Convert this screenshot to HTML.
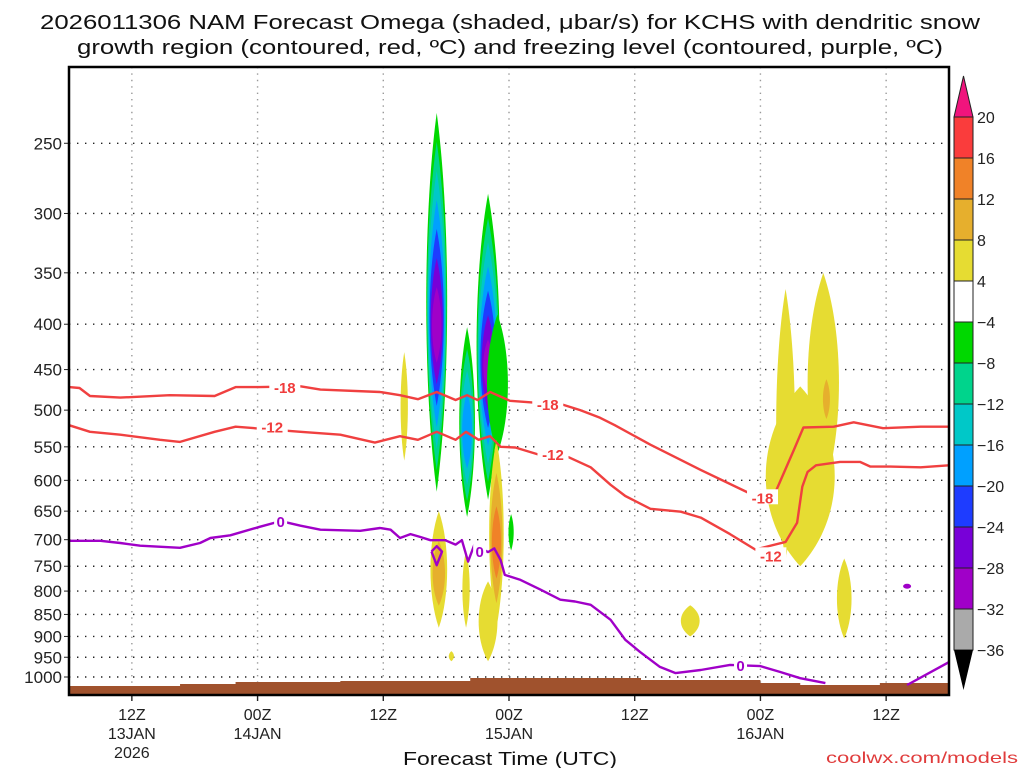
<!DOCTYPE html>
<html><head><meta charset="utf-8">
<style>
html,body{margin:0;padding:0;background:#fff;}
svg{display:block;font-family:"Liberation Sans",sans-serif;}
</style></head>
<body>
<svg id="chart" width="1024" height="768" viewBox="0 0 1024 768" xmlns="http://www.w3.org/2000/svg">
  <text x="40" y="29" font-size="20" fill="#111" textLength="940" lengthAdjust="spacingAndGlyphs">2026011306 NAM Forecast Omega (shaded, μbar/s) for KCHS with dendritic snow</text>
  <text x="77" y="54" font-size="20" fill="#111" textLength="866" lengthAdjust="spacingAndGlyphs">growth region (contoured, red, ºC) and freezing level (contoured, purple, ºC)</text>
  <g id="plot"></g>
  <g id="cbar"></g>
  <text x="510" y="765" font-size="18" fill="#111" text-anchor="middle" textLength="214" lengthAdjust="spacingAndGlyphs">Forecast Time (UTC)</text>
  <text x="826" y="763" font-size="16" fill="#e03c3c" textLength="192" lengthAdjust="spacingAndGlyphs">coolwx.com/models</text>
</svg>
<script>
// ---- data ----
const pressureTicks = [250,300,350,400,450,500,550,600,650,700,750,800,850,900,950,1000];
const timeTickHours = [6,18,30,42,54,66,78];
const timeTickLabels = [["12Z","13JAN","2026"],["00Z","14JAN"],["12Z"],["00Z","15JAN"],["12Z"],["00Z","16JAN"],["12Z"]];
const cbarLevels = [20,16,12,8,4,-4,-8,-12,-16,-20,-24,-28,-32,-36];
const cbarColors = ["#fa3c3c","#f08228","#e6af2d","#e6dc32","#ffffff","#00d800","#00d48c","#00c8c8","#00a0ff","#1e3cff","#7800d8","#a000c8","#aaaaaa"];
// omega blobs: center hour, top pressure, bottom pressure, half width (hours), peak value
const blobHour = [35.1,38.0,40.0,40.9,42.2, 32.0,35.3,37.9,40.8,40.0,36.5,72.0,68.4,69.8,59.3,74.0,72.3];
const blobTop  = [231,403,285,390,655, 430,650,720,540,780,935,350,365,470,830,735,440];
const blobBot  = [618,660,631,560,720, 570,880,880,880,960,960,620,740,750,900,905,530];
const blobHalf = [1.0,0.75,1.1,1.0,0.25, 0.35,0.8,0.35,0.7,0.9,0.25,1.5,0.9,3.3,0.9,0.7,0.45];
const blobPeak = [-30,-20,-29,-5,-6, 6,9,6,13,6,6,7,6,6,6,6,9];
// contour lines
const m18Hours = [0,1,2,4.9,9.6,13.9,15.9,18.2,22.1,24,29.7,31.6,33.3,35.1,36.9,38,39,40.2,42.1,45,46.9,48.8,50.7,52.1,55.5,58.4,60.3,64.9,67.4,69.2,70.1,73,74.9,77.7,81.3,84];
const m18Press = [471,472,482,484,481,482,471,471,470,474,477,481,486,477,487,481,487,477,488,491,492,500,510,520,547,569,584,620,620,554,523,522,516,524,522,522];
const m12Hours = [0,2,4.9,8.7,10.6,13.9,15.9,22.1,25.9,29.2,31.6,33.3,35.1,36.9,37.9,39.1,40.2,41.2,42.6,45,47.4,49.8,51.7,53.1,55.5,58.4,60.3,63.1,65.5,68.4,69.5,70.0,70.5,71.3,73.6,75.5,76.5,78.4,81.3,84];
const m12Press = [520,529,533,540,543,529,522,529,533,544,535,540,529,540,529,540,535,550,551,562,563,580,607,625,646,651,661,690,718,704,670,610,587,577,572,572,579,579,580,577];
const frzHours = [0,3,4.9,6.8,10.6,12.5,13.5,15.4,18.2,20.2,22.1,24,27.8,29.7,30.7,31.6,32.6,33.5,34.5,35.9,36.9,37.5,38.1,38.7,40.0,40.6,41.2,41.6,43.1,45,46.9,48.3,49.8,51.7,53.1,54.5,56.4,57.9,60.3,63.1,66,67.9,69.8,72.2];
const frzPress = [702,702,706,711,715,706,697,692,677,667,675,682,684,679,682,697,690,695,701,701,709,701,741,709,723,716,738,767,777,797,818,822,829,862,908,937,974,990,982,969,972,987,1003,1016];
const frz2Hours = [80,84];
const frz2Press = [1021,962];
const loopHours = [34.6,35.1,35.6,35.1,34.6];
const loopPress = [722,712,722,748,722];
const surfHours = [0,10.6,15.9,25.9,38.3,54.6,66,69.8,77.4,84];
const surfPress = [1023.7,1018.4,1013.1,1010.5,1002.6,1007.8,1015.7,1021,1015.7,1015.7];
const labelText = ["-18","-18","-18","-12","-12","-12","0","0","0"];
const labelHour = [20.6,45.7,66.2,19.4,46.2,67.0,20.2,39.2,64.1];
const labelPress= [471,492,627,522,560,729,667,721,969];
const labelColor= ["#f03c3c","#f03c3c","#f03c3c","#f03c3c","#f03c3c","#f03c3c","#a000c8","#a000c8","#a000c8"];
const dotHour = [80.0], dotPress = [790];

// ---- axes ----
const X0=69,X1=949,Y0=67,Y1=695;
const xs = h => X0 + h*(X1-X0)/84;
const ys = p => 677 - 385*Math.log(1000/p);
const NS="http://www.w3.org/2000/svg";
function mk(tag, parent, attrs){const e=document.createElementNS(NS,tag);for(const k in attrs)e.setAttribute(k,attrs[k]);parent.appendChild(e);return e;}
const plot=document.getElementById('plot');
const cbar=document.getElementById('cbar');
const svg=document.getElementById('chart');

const defs=mk('defs',svg,{});
const cp=mk('clipPath',defs,{id:'clip'});
mk('rect',cp,{x:X0,y:Y0,width:X1-X0,height:Y1-Y0});
const inner=mk('g',plot,{'clip-path':'url(#clip)'});



pressureTicks.forEach(p=>{
  const l=mk('line',inner,{x1:X0,x2:X1,y1:ys(p),y2:ys(p),stroke:'#222','stroke-width':1.4,'stroke-dasharray':'1.4 6.6'});
  
  
  const t=mk('text',plot,{x:62,y:ys(p)+6,'font-size':17,fill:'#222','text-anchor':'end'});
  
  
  t.textContent=p;
  mk('line',plot,{x1:X0-5,x2:X0,y1:ys(p),y2:ys(p),stroke:'#222'});
});
timeTickHours.forEach((h,i)=>{
  const l=mk('line',inner,{x1:xs(h),x2:xs(h),y1:Y0,y2:Y1,stroke:'#999','stroke-width':1.4,'stroke-dasharray':'1.4 5'});
  
  
  mk('line',plot,{x1:xs(h),x2:xs(h),y1:Y1,y2:Y1+6,stroke:'#222','stroke-width':1.4});
  timeTickLabels[i].forEach((s,j)=>{
    const t=mk('text',plot,{x:xs(h),y:Y1+25+j*19,'font-size':16,fill:'#222','text-anchor':'middle'});
    
    
    t.textContent=s;
  });
});

function colorFor(v){
  if(v>0){return ["#e6dc32","#e6af2d","#f08228","#fa3c3c"][Math.min(3,Math.floor((v-4)/4))];}
  return ["#00d800","#00d48c","#00c8c8","#00a0ff","#1e3cff","#7800d8","#a000c8","#aaaaaa"][Math.min(7,Math.floor((-v-4)/4))];
}
blobHour.forEach((h,i)=>{
  const pk=Math.abs(blobPeak[i]), sg=Math.sign(blobPeak[i]);
  const yt=ys(blobTop[i]), yb=ys(blobBot[i]);
  const cy0=(yt+yb)/2, ry0=(yb-yt)/2, rx0=blobHalf[i]*(X1-X0)/84;
  const cx=xs(h);
  for(let L=4; L<pk; L+=4){
    const s=1-(L-4)/pk;
    const ry=ry0*s, rx=rx0*Math.sqrt(s), cy=cy0+ry0*(1-s)*0.15;
    const k=rx*1.33;
    const d=`M${cx},${cy-ry} C${cx+k},${cy-ry*0.45} ${cx+k},${cy+ry*0.45} ${cx},${cy+ry} C${cx-k},${cy+ry*0.45} ${cx-k},${cy-ry*0.45} ${cx},${cy-ry} Z`;
    const e=mk('path',inner,{d:d,fill:colorFor(sg*(L+0.1))});
    
    
  }
});
dotHour.forEach((h,i)=>{
  const e=mk('ellipse',inner,{cx:xs(h),cy:ys(dotPress[i]),rx:4,ry:2.5,fill:'#a000c8'});
  
  
});
{
  let d='M'+X0+','+Y1;
  surfHours.forEach((h,i)=>{
    const y=ys(surfPress[i]);
    d+=' L'+xs(h)+','+y;
    if(i<surfHours.length-1) d+=' L'+xs(surfHours[i+1])+','+y;
  });
  d+=' L'+X1+','+Y1+' Z';
  const g=mk('path',inner,{d:d,fill:'#a0522d'});
  
  
}
function line(hs,ps,color,name){
  const pts=hs.map((h,i)=>xs(h).toFixed(1)+','+ys(ps[i]).toFixed(1)).join(' ');
  const l=mk('polyline',inner,{points:pts,fill:'none',stroke:color,'stroke-width':2.4,'stroke-linejoin':'round'});
  
  
}
line(m18Hours,m18Press,'#f04040','contour-minus18');
line(m12Hours,m12Press,'#f04040','contour-minus12');
line(frzHours,frzPress,'#a000c8','freezing-level-0');
line(frz2Hours,frz2Press,'#a000c8','freezing-level-0-east');
line(loopHours,loopPress,'#a000c8','freezing-level-loop');
labelText.forEach((s,i)=>{
  const x=xs(labelHour[i]), y=ys(labelPress[i]);
  const w=s.length*9+4;
  mk('rect',inner,{x:x-w/2,y:y-8,width:w,height:15,fill:'#fff'});
  const t=mk('text',inner,{x:x,y:y+6,'font-size':15,'font-weight':'bold',fill:labelColor[i],'text-anchor':'middle'});
  
  
  t.textContent=s;
});
const fr=mk('rect',plot,{x:X0,y:Y0,width:X1-X0,height:Y1-Y0,fill:'none',stroke:'#000','stroke-width':2.5});



const CB0=954,CB1=973, cbY=v=>117+cbarLevels.indexOf(v)*41.0;
cbarColors.forEach((c,i)=>{
  const r=mk('rect',cbar,{x:CB0,y:cbY(cbarLevels[i]),width:CB1-CB0,height:41,fill:c,stroke:'#222','stroke-width':1});
  
  
});
mk('polygon',cbar,{points:`${CB0},117 ${CB1},117 ${(CB0+CB1)/2},76`,fill:'#f0147d',stroke:'#222'});
mk('polygon',cbar,{points:`${CB0},650 ${CB1},650 ${(CB0+CB1)/2},690`,fill:'#000'});
cbarLevels.forEach(v=>{
  const t=mk('text',cbar,{x:977,y:cbY(v)+6,'font-size':16,fill:'#222'});
  
  
  t.textContent=v<0?'−'+(-v):String(v);
});
</script>
</body></html>
